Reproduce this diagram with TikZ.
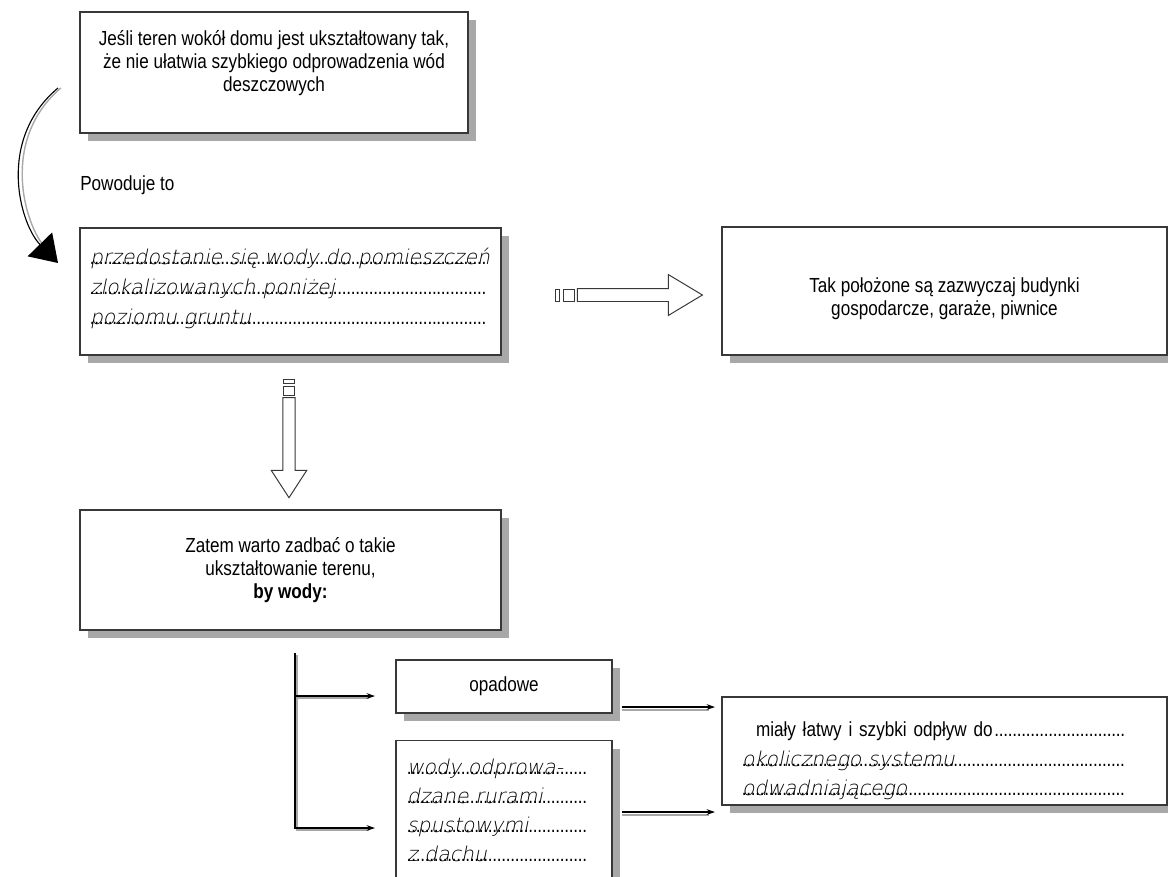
\documentclass[tikz,border=0pt]{standalone}
\usepackage{fontspec}
\setmainfont{Liberation Sans}[FakeStretch=0.84]
\newfontfamily\hand{DejaVu Sans ExtraLight}[FakeSlant=0.2]
\usetikzlibrary{shapes,arrows.meta,shadows,positioning}
\definecolor{shade}{gray}{0.66}
\definecolor{edge}{gray}{0.22}
\newcommand\dotsfill{\leaders\hbox to 3.2pt{\hss.\hss}\hfill}
\newcommand\handrow[2]{\makebox[#1][l]{\rlap{\makebox[#1]{\dotsfill}}{\hand #2}}}
\newcommand\plainrow[2]{\makebox[#1][l]{#2\dotsfill}}
\tikzstyle{box} = [rectangle, draw=edge, line width=0.8pt, fill=white, align=center, inner sep=0pt,
  font=\fontsize{14.5}{16.5}\selectfont, drop shadow={shadow xshift=0.2cm, shadow yshift=-0.2cm, fill=shade, opacity=1}]
\tikzstyle{hollow} = [single arrow, draw=edge, line width=0.7pt, fill=white, inner sep=0pt, text depth=0pt]
\tikzstyle{stub} = [rectangle, draw=edge, line width=0.7pt, fill=white, inner sep=0pt]
\tikzstyle{link} = [line width=0.8pt, -{Stealth[length=6pt,width=4pt]}]
\tikzstyle{ghost} = [draw=shade, line width=1pt]
\begin{document}
\begin{tikzpicture}
    \useasboundingbox (0,0) rectangle (29.2,-21.9);
    \node[box, minimum width=9.7cm, minimum height=3.025cm] (terrain) at (6.85,-1.8125)
        {Jeśli teren wokół domu jest ukształtowany tak,\\ że nie ułatwia szybkiego odprowadzenia wód\\ deszczowych\rule[-16pt]{0pt}{0pt}};
    \node[anchor=west, inner sep=0pt, font=\fontsize{14.5}{16}\selectfont] (cause) at (2.0,-4.625) {Powoduje to};
    \node[box, align=left, text width=10.025cm, inner xsep=0.25cm, minimum height=3.175cm,
        font=\fontsize{14.5}{21.3}\selectfont] (leak) at (7.2625,-7.2875)
        {\handrow{9.925cm}{przedostanie się wody do pomieszczeń}\\
         \handrow{9.925cm}{zlokalizowanych poniżej}\\
         \handrow{9.925cm}{poziomu gruntu}\rule[-8pt]{0pt}{0pt}};
    \node[box, minimum width=11.125cm, minimum height=3.2cm] (sheds) at (23.6125,-7.275)
        {\rule{0pt}{21pt}Tak położone są zazwyczaj budynki\\ gospodarcze, garaże, piwnice};
    \node[box, minimum width=10.525cm, minimum height=3.0cm] (shape) at (7.2625,-14.25)
        {Zatem warto zadbać o takie\\ ukształtowanie terenu,\\ \textbf{by wody:}};
    \node[box, minimum width=5.4cm, minimum height=1.325cm] (rain) at (12.6,-17.1625) {opadowe};
    \node[box, anchor=north, align=left, text width=4.85cm, inner xsep=0.275cm, minimum height=3.5cm,
        font=\fontsize{14.5}{20.5}\selectfont] (pipes) at (12.6,-18.5)
        {\handrow{4.525cm}{wody odprowa-}\\
         \handrow{4.525cm}{dzane rurami}\\
         \handrow{4.525cm}{spustowymi}\\
         \handrow{4.525cm}{z dachu}};
    \node[box, align=left, text width=10.125cm, inner xsep=0.5cm, minimum height=2.7cm,
        font=\fontsize{14.5}{21}\selectfont] (drain) at (23.6125,-18.775)
        {\rule{0pt}{25pt}\hspace*{0.35cm}\plainrow{9.3cm}{miały łatwy i szybki odpływ do}\\
         \handrow{9.65cm}{okolicznego systemu}\\
         \handrow{9.65cm}{odwadniającego}};

    \node[hollow, minimum height=3.125cm, minimum width=1.0cm, text height=0.3cm,
        single arrow head extend=0.35cm, single arrow tip angle=62] (arA) at (15.8625,-7.375) {};
    \node[stub, minimum width=0.275cm, minimum height=0.3cm, left=0.05cm of arA.tail] (stubA2) {};
    \node[stub, minimum width=0.1cm, minimum height=0.3cm, left=0.075cm of stubA2] (stubA1) {};
    \node[hollow, rotate=-90, minimum height=2.5cm, minimum width=0.85cm, text height=0.28cm,
        single arrow head extend=0.29cm, single arrow tip angle=66] (arB) at (7.225,-11.075) {};
    \node[stub, minimum width=0.28cm, minimum height=0.22cm, above=0.03cm of arB.tail] (stubB2) {};
    \node[stub, minimum width=0.28cm, minimum height=0.1cm, above=0.05cm of stubB2] (stubB1) {};

    \coordinate (bendA) at (1.45,-2.2);
    \coordinate (bendB) at (1.45,-6.575);
    \draw[ghost, shorten >=0.5cm] ([xshift=0.07cm]bendA) .. controls (0.0,-3.5) and (0.6,-5.6) .. ([xshift=0.02cm]bendB);
    \draw[line width=0.8pt, -{Triangle[length=0.65cm,width=0.85cm]}] (bendA) .. controls (-0.1,-3.5) and (0.5,-5.6) .. (bendB);

    \coordinate (fork) at (7.375,-16.325);
    \coordinate (toRain) at (9.375,-17.4);
    \coordinate (toPipes) at (9.375,-20.7);
    \draw[ghost] ([shift={(0.05,-0.05)}]fork) |- ([shift={(-0.15,-0.05)}]toPipes);
    \draw[ghost] ([shift={(0.05,-0.05)}]fork |- toRain) -- ([shift={(-0.15,-0.05)}]toRain);
    \draw[link] (fork) |- (toPipes);
    \draw[link] (fork |- toRain) -- (toRain);

    \coordinate (outA) at (15.55,-17.675);
    \coordinate (inA) at (17.875,-17.675);
    \coordinate (outB) at (15.55,-20.3);
    \coordinate (inB) at (17.875,-20.3);
    \draw[ghost] ([yshift=-0.07cm]outA) -- ([shift={(-0.15,-0.07)}]inA);
    \draw[ghost] ([yshift=-0.07cm]outB) -- ([shift={(-0.15,-0.07)}]inB);
    \draw[link] (outA) -- (inA);
    \draw[link] (outB) -- (inB);
\end{tikzpicture}
\end{document}
